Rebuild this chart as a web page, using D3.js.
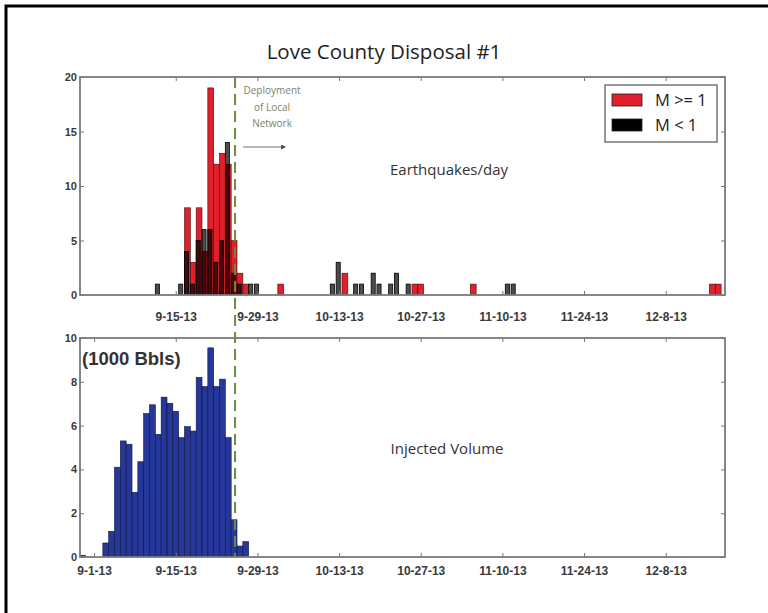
<!DOCTYPE html>
<html>
<head>
<meta charset="utf-8">
<script src="https://cdn.jsdelivr.net/npm/d3@7"></script>
<style>
  body { margin: 0; background: #fff; }
  svg { display: block; }
  .tick text { font-family: "Liberation Sans", Arial, sans-serif; font-weight: bold; font-size: 12px; fill: #3a3a3a; }
  .tick line { stroke: #777; }
</style>
</head>
<body>
<svg id="chart" width="768" height="613"></svg>
<script>
// earthquakes per day, M >= 1
const bigDates = ["2013-09-17", "2013-09-18", "2013-09-19", "2013-09-20", "2013-09-21", "2013-09-22",
  "2013-09-23", "2013-09-24", "2013-09-25", "2013-09-26", "2013-09-27", "2013-10-03", "2013-10-14",
  "2013-10-26", "2013-10-27", "2013-11-05", "2013-12-16", "2013-12-17"];
const bigCounts = [8, 3, 8, 4, 19, 12, 13, 12, 5, 2, 1, 1, 2, 1, 1, 1, 1, 1];

// earthquakes per day, M < 1
const smallDates = ["2013-09-12", "2013-09-16", "2013-09-17", "2013-09-18", "2013-09-19", "2013-09-20",
  "2013-09-21", "2013-09-22", "2013-09-23", "2013-09-24", "2013-09-25", "2013-09-26", "2013-09-28",
  "2013-09-29", "2013-10-12", "2013-10-13", "2013-10-16", "2013-10-17", "2013-10-19", "2013-10-20",
  "2013-10-22", "2013-10-23", "2013-10-25", "2013-11-11", "2013-11-12"];
const smallCounts = [1, 1, 4, 1, 5, 6, 6, 3, 5, 14, 2, 1, 1, 1, 1, 3, 1, 1, 2, 1, 1, 2, 1, 1, 1];

// injected volume per day (1000 bbls)
const volDates = ["2013-08-30", "2013-09-03", "2013-09-04", "2013-09-05", "2013-09-06", "2013-09-07",
  "2013-09-08", "2013-09-09", "2013-09-10", "2013-09-11", "2013-09-12", "2013-09-13", "2013-09-14",
  "2013-09-15", "2013-09-16", "2013-09-17", "2013-09-18", "2013-09-19", "2013-09-20", "2013-09-21",
  "2013-09-22", "2013-09-23", "2013-09-24", "2013-09-25", "2013-09-26", "2013-09-27"];
const volValues = [0.08, 0.64, 1.17, 4.1, 5.3, 5.15, 2.95, 4.35, 6.55, 6.95, 5.6, 7.3, 7.02,
  6.65, 5.45, 5.95, 5.75, 8.2, 7.78, 9.55, 7.78, 8.12, 5.45, 1.7, 0.5, 0.7];

const tickDates = ["2013-09-01", "2013-09-15", "2013-09-29", "2013-10-13", "2013-10-27",
  "2013-11-10", "2013-11-24", "2013-12-08"];
const tickLabels = ["9-1-13", "9-15-13", "9-29-13", "10-13-13", "10-27-13", "11-10-13", "11-24-13", "12-8-13"];
const eqTicks = [0, 5, 10, 15, 20];
const volTicks = [0, 2, 4, 6, 8, 10];
const deployDate = "2013-09-25T04:00:00Z";

const parse = d3.utcParse("%Y-%m-%d");
const day = 864e5;

const svg = d3.select("#chart");
const left = 80, right = 725;
const top1 = 77, bot1 = 295, top2 = 338, bot2 = 557;

const x = d3.scaleUtc()
  .domain([new Date(Date.UTC(2013, 7, 29, 14)), new Date(Date.UTC(2013, 11, 18, 4))])
  .range([left, right]);
const y1 = d3.scaleLinear().domain([0, 20]).range([bot1, top1]);
const y2 = d3.scaleLinear().domain([0, 10]).range([bot2, top2]);

// outer frame
svg.append("path").attr("d", "M6,613V6H768").attr("fill", "none").attr("stroke", "#000").attr("stroke-width", 3);

svg.append("text").attr("x", 384).attr("y", 59).attr("text-anchor", "middle")
  .style("font-family", "Open Sans").style("font-size", "20.5px").attr("fill", "#222")
  .text("Love County Disposal #1");

const defs = svg.append("defs");
defs.append("clipPath").attr("id", "clip1").append("rect")
  .attr("x", left).attr("y", top1).attr("width", right - left).attr("height", bot1 - top1);
defs.append("clipPath").attr("id", "clip2").append("rect")
  .attr("x", left).attr("y", top2).attr("width", right - left).attr("height", bot2 - top2);

// ---- top panel: earthquakes/day
const g1 = svg.append("g").attr("clip-path", "url(#clip1)");
const big = bigDates.map((d, i) => ({ t: parse(d), v: bigCounts[i] }));
const small = smallDates.map((d, i) => ({ t: parse(d), v: smallCounts[i] }));

g1.selectAll(".big").data(big).join("rect")
  .attr("x", d => x(+d.t - day / 2))
  .attr("width", d => x(+d.t + day / 2) - x(+d.t - day / 2))
  .attr("y", d => y1(d.v))
  .attr("height", d => y1(0) - y1(d.v))
  .attr("fill", "#e0212b").attr("stroke", "#3a0c0c").attr("stroke-width", 0.6);

g1.selectAll(".small").data(small).join("rect")
  .attr("x", d => x(+d.t - day / 2))
  .attr("width", d => x(+d.t + day * 0.2) - x(+d.t - day / 2))
  .attr("y", d => y1(d.v))
  .attr("height", d => y1(0) - y1(d.v))
  .attr("fill", "#000").attr("fill-opacity", 0.7).attr("stroke", "#000").attr("stroke-width", 0.8);

// ---- bottom panel: injected volume
const g2 = svg.append("g").attr("clip-path", "url(#clip2)");
const vol = volDates.map((d, i) => ({ t: parse(d), v: volValues[i] }));
g2.selectAll("rect").data(vol).join("rect")
  .attr("x", d => x(+d.t - day / 2))
  .attr("width", d => x(+d.t + day / 2) - x(+d.t - day / 2))
  .attr("y", d => y2(d.v))
  .attr("height", d => y2(0) - y2(d.v))
  .attr("fill", "#26379a").attr("stroke", "#0d1440").attr("stroke-width", 0.6);

// axes
const ticksT = tickDates.map(parse);
function drawAxes(yScale, yTicks, top, bot, labelPad, withFirst) {
  const xt = withFirst ? ticksT : ticksT.slice(1);
  const xl = withFirst ? tickLabels : tickLabels.slice(1);
  svg.append("g").attr("transform", `translate(0,${bot})`)
    .call(d3.axisBottom(x).tickValues(xt).tickFormat((d, i) => xl[i]).tickSizeInner(-4).tickSizeOuter(0).tickPadding(labelPad))
    .call(g => g.select(".domain").remove());
  svg.append("g").attr("transform", `translate(0,${top})`)
    .call(d3.axisTop(x).tickValues(xt).tickFormat("").tickSizeInner(-4).tickSizeOuter(0))
    .call(g => g.select(".domain").remove());
  svg.append("g").attr("transform", `translate(${left},0)`)
    .call(d3.axisLeft(yScale).tickValues(yTicks).tickSizeInner(-4).tickSizeOuter(0).tickPadding(3))
    .call(g => g.select(".domain").remove())
    .call(g => g.selectAll("text").style("font-size", "11px"));
  svg.append("g").attr("transform", `translate(${right},0)`)
    .call(d3.axisRight(yScale).tickValues(yTicks).tickFormat("").tickSizeInner(-4).tickSizeOuter(0))
    .call(g => g.select(".domain").remove());
  svg.append("rect").attr("x", left).attr("y", top).attr("width", right - left).attr("height", bot - top)
    .attr("fill", "none").attr("stroke", "#7a7a7a").attr("stroke-width", 1.8);
}
drawAxes(y1, eqTicks, top1, bot1, 17, false);
drawAxes(y2, volTicks, top2, bot2, 9, true);

// deployment marker
const xd = x(new Date(deployDate));
svg.append("line").attr("x1", xd).attr("x2", xd).attr("y1", top1).attr("y2", bot2)
  .attr("stroke", "#6a8c42").attr("stroke-width", 2).attr("stroke-dasharray", "11,6");

const note = svg.append("text").attr("text-anchor", "middle")
  .style("font-family", "Open Sans").style("font-size", "10px").attr("fill", "#7d8366");
["Deployment", "of Local", "Network"].forEach((s, i) =>
  note.append("tspan").attr("x", xd + 37).attr("y", 94 + i * 16.5).text(s));

defs.append("marker").attr("id", "arrow").attr("viewBox", "0 0 10 10").attr("refX", 8).attr("refY", 5)
  .attr("markerWidth", 5).attr("markerHeight", 5).attr("orient", "auto")
  .append("path").attr("d", "M0,0L10,5L0,10z").attr("fill", "#4a4f3a");
svg.append("line").attr("x1", xd + 8).attr("x2", xd + 50).attr("y1", 147).attr("y2", 147)
  .attr("stroke", "#6d7358").attr("stroke-width", 1).attr("marker-end", "url(#arrow)");

// legend
const lg = svg.append("g");
lg.append("rect").attr("x", 605).attr("y", 85).attr("width", 112).attr("height", 57)
  .attr("fill", "#fff").attr("stroke", "#777").attr("stroke-width", 1.5);
[["#e0212b", "M >= 1"], ["#000", "M < 1"]].forEach(([c, s], i) => {
  lg.append("rect").attr("x", 612).attr("y", 94 + i * 25).attr("width", 30).attr("height", 12)
    .attr("fill", c).attr("stroke", "#222").attr("stroke-width", 0.8);
  lg.append("text").attr("x", 655).attr("y", 106 + i * 25)
    .style("font-family", "Open Sans").style("font-size", "16.5px").attr("fill", "#222").text(s);
});

// panel captions
svg.append("text").attr("x", 449).attr("y", 175).attr("text-anchor", "middle")
  .style("font-family", "Open Sans").style("font-size", "15px").attr("fill", "#333").text("Earthquakes/day");
svg.append("text").attr("x", 447).attr("y", 454).attr("text-anchor", "middle")
  .style("font-family", "Open Sans").style("font-size", "15px").attr("fill", "#333").text("Injected Volume");
svg.append("text").attr("x", 82).attr("y", 365)
  .style("font-family", "Liberation Sans").style("font-weight", "bold").style("font-size", "18.5px")
  .attr("fill", "#333").text("(1000 Bbls)");
</script>
</body>
</html>
